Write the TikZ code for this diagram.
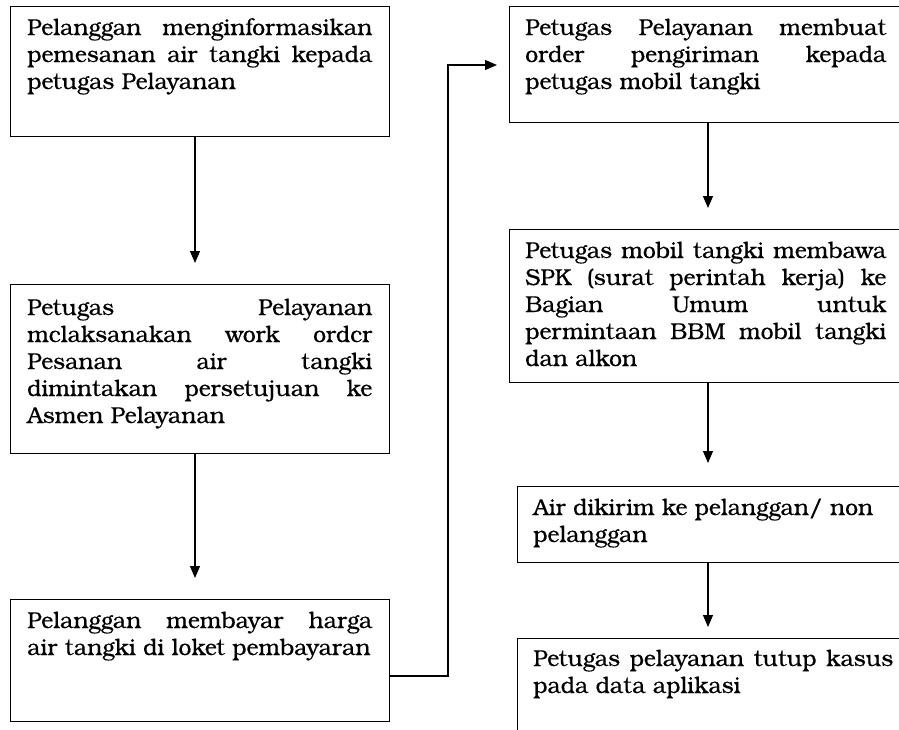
\documentclass[tikz,border=0pt]{standalone}
\usepackage{fontspec}
\setmainfont{texgyrebonum-regular.otf}[FakeBold=0.4]
\usetikzlibrary{arrows.meta,calc}
\newcommand{\jl}[1]{\makebox[\linewidth][s]{#1}\\}
\begin{document}
\begin{tikzpicture}[x=0.75pt,y=-0.75pt,
  box/.style={draw, line width=1pt, inner sep=0pt, anchor=north west},
  txt/.style={inner sep=0pt, anchor=base west, font=\fontsize{17.2pt}{20.25pt}\selectfont},
  arr/.style={line width=0.9pt, -{Triangle[length=9pt,width=7.5pt]}}]
\clip (0,0) rectangle (899,729);
\fill[white] (0,0) rectangle (899,729);
% boxes
\node[box, minimum width=284.25pt, minimum height=97.5pt] (b1) at (10,6) {};
\node[box, minimum width=284.25pt, minimum height=126.75pt] (b2) at (10,284) {};
\node[box, minimum width=284.25pt, minimum height=91.5pt] (b3) at (10,599) {};
\node[box, minimum width=308.25pt, minimum height=87pt] (b4) at (509,6) {};
\node[box, minimum width=308.25pt, minimum height=114.75pt] (b5) at (509,229) {};
\node[box, minimum width=302.25pt, minimum height=57pt] (b6) at (517,486) {};
\node[box, minimum width=302.25pt, minimum height=91.5pt] (b7) at (517,638) {};
% texts
\node[txt] (t1) at (27,35) {\parbox[t]{258.75pt}{\jl{Pelanggan menginformasikan}\jl{pemesanan air tangki kepada}petugas Pelayanan}};
\node[txt] (t2) at (27,315) {\parbox[t]{258.75pt}{\jl{Petugas Pelayanan}\jl{mclaksanakan work ordcr}\jl{Pesanan air tangki}\jl{dimintakan persetujuan ke}Asmen Pelayanan}};
\node[txt] (t3) at (27,628) {\parbox[t]{258.75pt}{\jl{Pelanggan membayar harga}air tangki di loket pembayaran}};
\node[txt] (t4) at (525,35) {\parbox[t]{270.75pt}{\jl{Petugas Pelayanan membuat}\jl{order pengiriman kepada}petugas mobil tangki}};
\node[txt] (t5) at (525,258) {\parbox[t]{270.75pt}{\jl{Petugas mobil tangki membawa}\jl{SPK (surat perintah kerja) ke}\jl{Bagian Umum untuk}\jl{permintaan BBM mobil tangki}dan alkon}};
\node[txt] (t6) at (533,515) {\parbox[t]{270.75pt}{Air dikirim ke pelanggan/ non\\pelanggan}};
\node[txt] (t7) at (533,666) {\parbox[t]{270pt}{\jl{Petugas pelayanan tutup kasus}pada data aplikasi}};
% connectors
\coordinate (lx) at (195,0);
\coordinate (rx) at (708,0);
\draw[arr] (b1.south -| lx) -- ($(b2.north -| lx)+(0,-21)$);
\draw[arr] (b2.south -| lx) -- ($(b3.north -| lx)+(0,-21)$);
\coordinate (k1) at (448,676);
\coordinate (k2) at (448,65);
\draw[arr] (b3.east |- k1) -- (k1) -- (k2) -- ($(b4.west |- k2)+(-12,0)$);
\draw[arr] (b4.south -| rx) -- ($(b5.north -| rx)+(0,-21)$);
\draw[arr] (b5.south -| rx) -- ($(b6.north -| rx)+(0,-23)$);
\draw[arr] (b6.south -| rx) -- ($(b7.north -| rx)+(0,-11)$);
\end{tikzpicture}
\end{document}
